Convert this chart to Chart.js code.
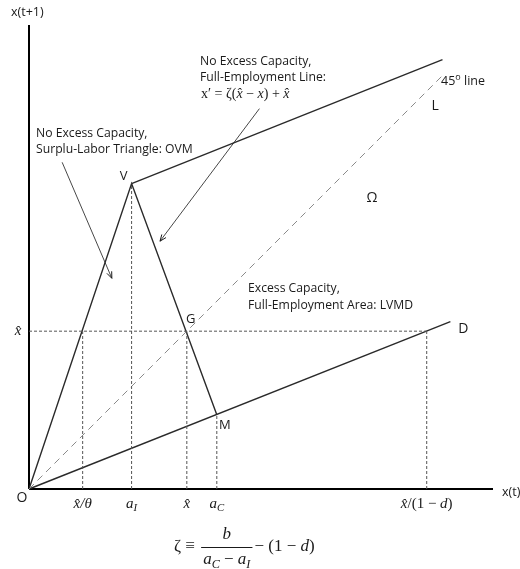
<!DOCTYPE html>
<html>
<head>
<meta charset="utf-8">
<script src="https://cdn.jsdelivr.net/npm/chart.js@4.4.1/dist/chart.umd.min.js"></script>
<style>
  html, body { margin: 0; padding: 0; background: #fff; }
  #wrap { width: 520px; height: 569px; position: relative; }
</style>
</head>
<body>
<div id="wrap"><canvas id="dynamicsChart"></canvas></div>
<script>
// units: x-hat = 1, both axes share the same scale
const axisMax = 2.94;

// O -> V -> M (surplus-labor triangle, left and right sides)
const triangleX = [0, 0.65, 1.19];
const triangleY = [0, 1.935, 0.47];
// full-employment line leaving V
const fullEmpX = [0.65, 2.62];
const fullEmpY = [1.935, 2.72];
// O -> D line
const dLineX = [0, 2.67];
const dLineY = [0, 1.06];
// 45 degree line
const diagX = [0, 2.63];
const diagY = [0, 2.63];

// x-axis markers, and how high each dotted guide climbs
const tickValues = [0.34, 0.65, 1, 1.19, 2.52];
const tickTops = [1, 1.935, 1, 0.47, 1];
const tickLabels = [
  [{ t: 'x\u0302/\u03b8', i: true }],
  [{ t: 'a', i: true }, { t: 'I', i: true, sub: true }],
  [{ t: 'x\u0302', i: true }],
  [{ t: 'a', i: true }, { t: 'C', i: true, sub: true }],
  [{ t: 'x\u0302', i: true }, { t: '/(1 \u2212 ' }, { t: 'd', i: true }, { t: ')' }]
];
// x-hat level on the vertical axis
const hatGuideX = [0, 2.52];
const hatGuideY = [1, 1];

// annotation arrows (tail -> head)
const arrowTailX = [0.21, 1.46];
const arrowTailY = [2.07, 2.41];
const arrowHeadX = [0.525, 0.83];
const arrowHeadY = [1.335, 1.57];

const SANS = '"Open Sans", "Noto Sans", sans-serif';
const SERIF = '"Liberation Serif", "DejaVu Serif", serif';
const INK = '#1a1a1a';

function pts(xs, ys) {
  return xs.map((x, k) => ({ x, y: ys[k] }));
}

function lineSet(data, opts) {
  return Object.assign({
    data,
    showLine: true,
    pointRadius: 0,
    borderColor: '#2a2a2a',
    borderWidth: 1.4,
    fill: false,
    clip: false
  }, opts || {});
}

/**
 * Draw a run of text pieces (italic / sub / sup) starting at x
 */
function drawRich(ctx, segs, x, y, align, size, family) {
  const fontFor = s => (s.i ? 'italic ' : '') + ((s.sub || s.sup) ? size * 0.72 : size) + 'px ' + (s.f || family);
  let total = 0;
  segs.forEach(s => { ctx.font = fontFor(s); total += ctx.measureText(s.t).width; });
  let cx = align === 'center' ? x - total / 2 : (align === 'right' ? x - total : x);
  ctx.textAlign = 'left';
  ctx.textBaseline = 'middle';
  segs.forEach(s => {
    ctx.font = fontFor(s);
    const dy = s.sub ? size * 0.3 : (s.sup ? -size * 0.38 : 0);
    ctx.fillText(s.t, cx, y + dy);
    cx += ctx.measureText(s.t).width;
  });
  return total;
}

function textAt(ctx, str, x, y, size, align) {
  ctx.font = size + 'px ' + SANS;
  ctx.textAlign = align || 'left';
  ctx.textBaseline = 'middle';
  ctx.fillText(str, x, y);
}

const labelPlugin = {
  id: 'diagramLabels',
  afterDatasetsDraw(chart) {
    const ctx = chart.ctx;
    const sx = chart.scales.x;
    const sy = chart.scales.y;
    const px = v => sx.getPixelForValue(v);
    const py = v => sy.getPixelForValue(v);
    ctx.save();
    ctx.fillStyle = INK;
    ctx.strokeStyle = INK;

    // arrowheads
    ctx.lineWidth = 1;
    arrowHeadX.forEach((hx, k) => {
      const x1 = px(arrowTailX[k]), y1 = py(arrowTailY[k]);
      const x2 = px(hx), y2 = py(arrowHeadY[k]);
      const ang = Math.atan2(y2 - y1, x2 - x1);
      ctx.beginPath();
      ctx.moveTo(x2 - 7 * Math.cos(ang - 0.38), y2 - 7 * Math.sin(ang - 0.38));
      ctx.lineTo(x2, y2);
      ctx.lineTo(x2 - 7 * Math.cos(ang + 0.38), y2 - 7 * Math.sin(ang + 0.38));
      ctx.stroke();
    });

    // axis titles and point names
    textAt(ctx, 'x(t+1)', 11, 12, 12.5);
    textAt(ctx, 'x(t)', px(axisMax) + 9, py(0) + 3, 12.5);
    textAt(ctx, 'O', px(0) - 7, py(0) + 9, 14, 'center');
    textAt(ctx, 'V', px(triangleX[1]) - 8, py(triangleY[1]) - 7, 13, 'center');
    textAt(ctx, 'G', px(1) + 4, py(1) - 12, 13, 'center');
    textAt(ctx, 'M', px(triangleX[2]) + 8, py(triangleY[2]) + 10, 13, 'center');
    textAt(ctx, 'D', px(dLineX[1]) + 13, py(dLineY[1]) + 7, 14, 'center');
    textAt(ctx, 'L', px(diagX[1]) - 9, py(diagY[1]) + 32, 14, 'center');
    textAt(ctx, '\u03a9', 372, 198, 14, 'center');
    drawRich(ctx, [{ t: '45' }, { t: 'o', sup: true }, { t: ' line' }], px(diagX[1]) - 3, py(diagY[1]) + 8, 'left', 12.5, SANS);

    // annotation blocks
    textAt(ctx, 'No Excess Capacity,', 200, 62, 12.2);
    textAt(ctx, 'Full-Employment Line:', 200, 78, 12.2);
    drawRich(ctx, [
      { t: 'x\u2032 = \u03b6(' }, { t: 'x\u0302', i: true }, { t: ' \u2212 ' }, { t: 'x', i: true },
      { t: ') + ' }, { t: 'x\u0302', i: true }
    ], 201, 94, 'left', 14, SERIF);
    textAt(ctx, 'No Excess Capacity,', 36, 134, 12.2);
    textAt(ctx, 'Surplu-Labor Triangle: OVM', 36, 150, 12.2);
    textAt(ctx, 'Excess Capacity,', 248, 289, 12.2);
    textAt(ctx, 'Full-Employment Area: LVMD', 248, 306, 12.2);

    // tick labels
    tickValues.forEach((v, k) => {
      drawRich(ctx, tickLabels[k], px(v), py(0) + 15, 'center', 15, SERIF);
    });
    drawRich(ctx, [{ t: 'x\u0302', i: true }], px(0) - 11, py(hatGuideY[0]), 'center', 15, SERIF);

    // zeta definition under the chart
    const fs = 17;
    const cy = 547;
    let x = 174;
    x += drawRich(ctx, [{ t: '\u03b6 \u2261 ' }], x, cy, 'left', fs, SERIF) + 2;
    const denom = [{ t: 'a', i: true }, { t: 'C', i: true, sub: true }, { t: ' \u2212 ' }, { t: 'a', i: true }, { t: 'I', i: true, sub: true }];
    let wd = 0;
    denom.forEach(s => { ctx.font = (s.i ? 'italic ' : '') + (s.sub ? fs * 0.72 : fs) + 'px ' + SERIF; wd += ctx.measureText(s.t).width; });
    ctx.lineWidth = 1;
    ctx.beginPath();
    ctx.moveTo(x, cy + 0.5);
    ctx.lineTo(x + wd + 4, cy + 0.5);
    ctx.stroke();
    drawRich(ctx, [{ t: 'b', i: true }], x + wd / 2 + 2, cy - 12, 'center', fs, SERIF);
    drawRich(ctx, denom, x + wd / 2 + 2, cy + 13, 'center', fs, SERIF);
    x += wd + 6;
    drawRich(ctx, [{ t: '\u2212 (1 \u2212 ' }, { t: 'd', i: true }, { t: ')' }], x, cy, 'left', fs, SERIF);

    ctx.restore();
  }
};

const guideStyle = { borderColor: '#555', borderWidth: 1, borderDash: [3, 2] };

const datasets = [];
tickValues.forEach((v, k) => {
  datasets.push(lineSet(pts([v, v], [0, tickTops[k]]), guideStyle));
});
datasets.push(lineSet(pts(hatGuideX, hatGuideY), guideStyle));
datasets.push(lineSet(pts(diagX, diagY), { borderColor: '#8a8a8a', borderWidth: 1, borderDash: [7, 5] }));
datasets.push(lineSet(pts(triangleX, triangleY)));
datasets.push(lineSet(pts(fullEmpX, fullEmpY)));
datasets.push(lineSet(pts(dLineX, dLineY)));
arrowHeadX.forEach((hx, k) => {
  datasets.push(lineSet(pts([arrowTailX[k], hx], [arrowTailY[k], arrowHeadY[k]]), { borderWidth: 0.9, borderColor: '#333' }));
});
// axes
datasets.push(lineSet(pts([0, 0], [0, axisMax]), { borderColor: '#000', borderWidth: 2 }));
datasets.push(lineSet(pts([0, axisMax], [0, 0]), { borderColor: '#000', borderWidth: 2 }));

new Chart(document.getElementById('dynamicsChart'), {
  type: 'scatter',
  data: { datasets },
  options: {
    responsive: true,
    maintainAspectRatio: false,
    animation: false,
    events: [],
    layout: { padding: { left: 29, right: 27, top: 25, bottom: 80 } },
    plugins: {
      legend: { display: false },
      tooltip: { enabled: false }
    },
    scales: {
      x: { type: 'linear', display: false, min: 0, max: axisMax },
      y: { type: 'linear', display: false, min: 0, max: axisMax }
    }
  },
  plugins: [labelPlugin]
});
</script>
</body>
</html>
